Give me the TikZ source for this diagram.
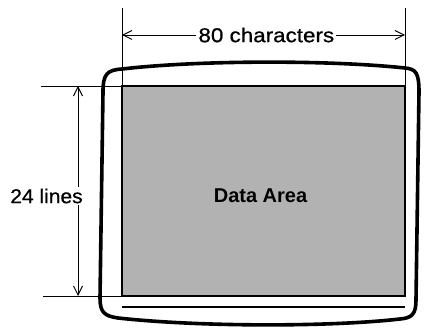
\documentclass[tikz,border=0pt]{standalone}
\usepackage{fontspec}
\setmainfont{Liberation Sans}
\newfontfamily\medfont[FakeBold=0.7]{Liberation Sans}
\usetikzlibrary{arrows.meta}
\begin{document}
\begin{tikzpicture}[x=1pt,y=-1pt,
  thinline/.style={line width=0.9pt},
  dimarrow/.style={thinline,{Straight Barb[length=9pt,width=9pt]}-{Straight Barb[length=9pt,width=9pt]}},
  screen/.style={line width=3.6pt,line join=round},
  lbl/.style={fill=white,inner sep=2pt,font=\medfont\fontsize{20}{24}\selectfont}]
\useasboundingbox (0,0) rectangle (424,329);
% data area
\coordinate (tl) at (122,86);
\coordinate (br) at (405,296);
\fill[black!30] (tl) rectangle (br);
\draw[line width=1.8pt] (tl) rectangle (br);
\node[font=\fontsize{20}{24}\selectfont\bfseries] (data) at (260.5,196) {Data Area};
% extension lines
\coordinate (vl) at (122,8);
\coordinate (vr) at (405,8);
\coordinate (rtop) at (405,86);
\coordinate (ht) at (41,86);
\coordinate (hb) at (43,296);
\coordinate (bl) at (122,296);
\draw[thinline] (vl) -- (tl);
\draw[thinline] (vr) -- (rtop);
\draw[thinline] (ht) -- (tl);
\draw[thinline] (hb) -- (bl);
% horizontal dimension
\coordinate (ha) at (122,35);
\coordinate (hbb) at (405,35);
\draw[dimarrow] (ha) -- (hbb) node[lbl,xscale=1.12,pos=0.51] (chars) {80 characters};
% vertical dimension
\coordinate (va) at (78,86);
\coordinate (vb) at (78,296);
\draw[dimarrow] (va) -- (vb);
\node[lbl,xscale=1.05] (lines) at (46.5,196) {24 lines};
% inner bottom line
\coordinate (il) at (122,307);
\coordinate (ir) at (405,307);
\draw[line width=2.4pt] (il) -- (ir);
% screen outline
\draw[screen] (103,92) .. controls (103,74) and (107,70) .. (122,69)
  .. controls (200,60) and (330,60) .. (405,68)
  .. controls (416,69) and (419,73) .. (419,92)
  -- (416,300) .. controls (416,314) and (412,318) .. (400,319)
  .. controls (330,327) and (200,327) .. (118,318)
  .. controls (104,316) and (100,312) .. (100,298) -- cycle;
\end{tikzpicture}
\end{document}
